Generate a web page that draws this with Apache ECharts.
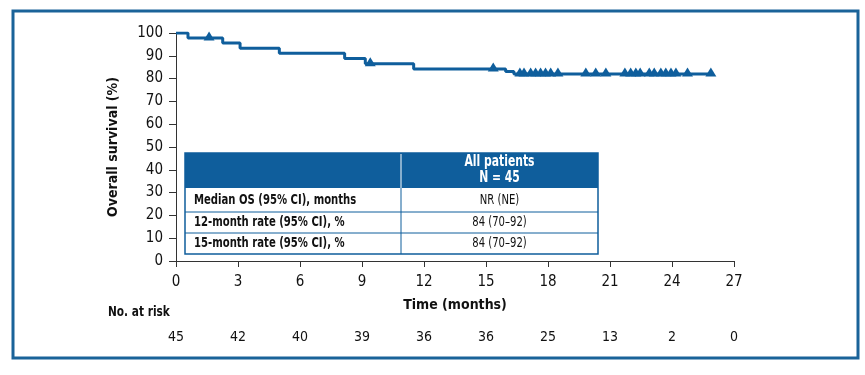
<!DOCTYPE html>
<html>
<head>
<meta charset="utf-8">
<script src="https://cdn.jsdelivr.net/npm/echarts@6/dist/echarts.min.js"></script>
<style>
  html, body { margin: 0; padding: 0; background: #fff; }
  #chart { width: 865px; height: 375px; }
</style>
</head>
<body>
<div id="chart"></div>
<script>
// KM curve: time (months) and survival (%) at each step
const stepTimes = [0, 0.58, 2.26, 3.1, 5.0, 8.16, 9.16, 11.5, 15.95, 16.35, 25.9];
const stepSurv = [100, 97.8, 95.6, 93.3, 91.1, 88.8, 86.5, 84.2, 83.1, 82.0, 82.0];

// censored patients
const censorTimes = [1.6, 9.4, 15.35, 16.64, 16.84, 17.16, 17.4, 17.64, 17.88, 18.13, 18.48,
  19.83, 20.31, 20.8, 21.72, 22.0, 22.25, 22.46, 22.9, 23.14, 23.46, 23.7, 23.95, 24.19, 24.75, 25.88];
const censorSurv = [97.8, 86.5, 84.2, 82, 82, 82, 82, 82, 82, 82, 82,
  82, 82, 82, 82, 82, 82, 82, 82, 82, 82, 82, 82, 82, 82, 82];

const xTicks = [0, 3, 6, 9, 12, 15, 18, 21, 24, 27];
const atRisk = [45, 42, 40, 39, 36, 36, 25, 13, 2, 0];

const tableHeader = ['All patients', 'N = 45'];
const tableRows = ['Median OS (95% CI), months', '12-month rate (95% CI), %', '15-month rate (95% CI), %'];
const tableValues = ['NR (NE)', '84 (70\u201392)', '84 (70\u201392)'];

const FONT = '"DejaVu Sans Condensed", "Liberation Sans", Arial, sans-serif';
const BLUE = '#0f5e9c';
const AXIS = '#333';
const SQUEEZE = 0.8; // condensed look for table text

const chart = echarts.init(document.getElementById('chart'));

// table drawn as graphic elements
const tLeft = 185, tRight = 598, tTop = 153, tDiv = 401;
const rowTops = [188, 212, 233, 254];
const tableGraphic = [
  { type: 'rect', shape: { x: tLeft, y: tTop, width: tRight - tLeft, height: rowTops[0] - tTop },
    style: { fill: BLUE } },
  { type: 'rect', shape: { x: tLeft, y: tTop, width: tRight - tLeft, height: rowTops[3] - tTop },
    style: { fill: null, stroke: BLUE, lineWidth: 1.5 } },
  { type: 'line', shape: { x1: tDiv, y1: tTop + 1, x2: tDiv, y2: rowTops[0] },
    style: { stroke: '#fff', lineWidth: 1 } },
  { type: 'line', shape: { x1: tDiv, y1: rowTops[0], x2: tDiv, y2: rowTops[3] },
    style: { stroke: BLUE, lineWidth: 1 } },
  { type: 'line', shape: { x1: tLeft, y1: rowTops[1], x2: tRight, y2: rowTops[1] },
    style: { stroke: BLUE, lineWidth: 1 } },
  { type: 'line', shape: { x1: tLeft, y1: rowTops[2], x2: tRight, y2: rowTops[2] },
    style: { stroke: BLUE, lineWidth: 1 } },
  { type: 'text', x: (tDiv + tRight) / 2, y: tTop + 9, scaleX: SQUEEZE,
    style: { text: tableHeader[0], fill: '#fff', font: 'bold 15px ' + FONT, align: 'center', verticalAlign: 'middle' } },
  { type: 'text', x: (tDiv + tRight) / 2, y: tTop + 25, scaleX: SQUEEZE,
    style: { text: tableHeader[1], fill: '#fff', font: 'bold 15px ' + FONT, align: 'center', verticalAlign: 'middle' } }
];
tableRows.forEach((label, i) => {
  const cy = (rowTops[i] + rowTops[i + 1]) / 2;
  tableGraphic.push({ type: 'text', x: tLeft + 9, y: cy, scaleX: SQUEEZE,
    style: { text: label, fill: '#111', font: 'bold 14px ' + FONT, verticalAlign: 'middle' } });
  tableGraphic.push({ type: 'text', x: (tDiv + tRight) / 2, y: cy, scaleX: SQUEEZE,
    style: { text: tableValues[i], fill: '#111', font: '14px ' + FONT, align: 'center', verticalAlign: 'middle' } });
});

const option = {
  animation: false,
  grid: { left: 176, right: 131, top: 33, bottom: 114 },
  xAxis: [{
    type: 'value', min: 0, max: 27, interval: 3,
    name: 'Time (months)', nameLocation: 'middle', nameGap: 37,
    nameTextStyle: { fontFamily: FONT, fontSize: 14, fontWeight: 'bold', color: '#111' },
    axisLine: { lineStyle: { color: AXIS, width: 1 } },
    axisTick: { length: 6, lineStyle: { color: AXIS } },
    axisLabel: { fontFamily: FONT, fontSize: 15, color: '#111', margin: 14 },
    splitLine: { show: false }
  }, {
    type: 'value', min: 0, max: 27, interval: 3, position: 'bottom', offset: 69,
    axisLine: { show: false }, axisTick: { show: false }, splitLine: { show: false },
    axisLabel: {
      fontFamily: FONT, fontSize: 14, color: '#111', margin: 0,
      formatter: v => { const i = xTicks.indexOf(v); return i >= 0 ? String(atRisk[i]) : ''; }
    }
  }],
  yAxis: {
    type: 'value', min: 0, max: 100, interval: 10,
    name: 'Overall survival (%)', nameLocation: 'middle', nameGap: 56,
    nameTextStyle: { fontFamily: FONT, fontSize: 14, fontWeight: 'bold', color: '#111' },
    axisLine: { show: true, lineStyle: { color: AXIS, width: 1 } },
    axisTick: { show: true, length: 7, lineStyle: { color: AXIS } },
    axisLabel: { fontFamily: FONT, fontSize: 15, color: '#111', margin: 13 },
    splitLine: { show: false }
  },
  series: [{
    type: 'line', step: 'end', symbol: 'none',
    data: stepTimes.map((t, i) => [t, stepSurv[i]]),
    lineStyle: { color: BLUE, width: 3 }
  }, {
    type: 'scatter', symbol: 'triangle', symbolSize: [11, 9], symbolOffset: [0, -2],
    data: censorTimes.map((t, i) => [t, censorSurv[i]]),
    itemStyle: { color: BLUE, opacity: 1 }
  }],
  graphic: [
    { type: 'rect', shape: { x: 13, y: 11, width: 845, height: 347 },
      style: { fill: null, stroke: '#1a6399', lineWidth: 3 } },
    { type: 'text', x: 108, y: 312, scaleX: 0.84,
      style: { text: 'No. at risk', fill: '#111', font: 'bold 14px ' + FONT, verticalAlign: 'middle' } }
  ].concat(tableGraphic)
};

chart.setOption(option);
</script>
</body>
</html>
